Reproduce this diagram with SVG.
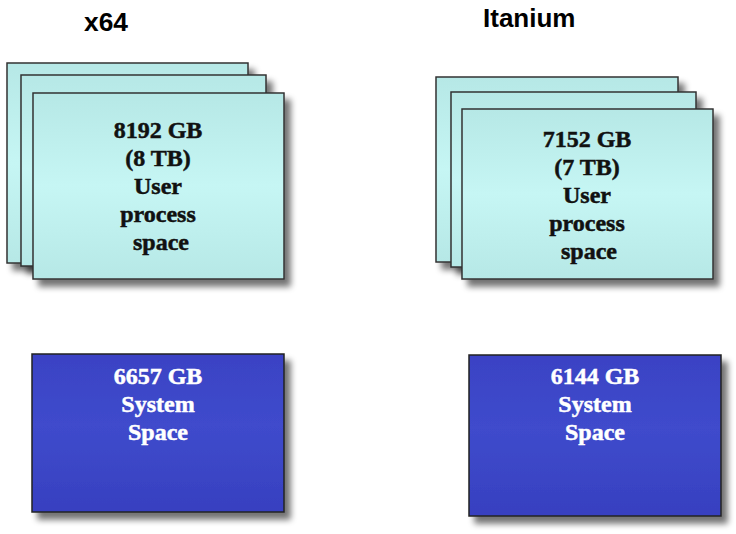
<svg xmlns="http://www.w3.org/2000/svg" width="736" height="534" viewBox="0 0 736 534">
<defs>
  <linearGradient id="cyan" x1="0" y1="0" x2="0" y2="1">
    <stop offset="0" stop-color="#b6e8e6"/>
    <stop offset="0.5" stop-color="#c6f6f4"/>
    <stop offset="1" stop-color="#b6e8e6"/>
  </linearGradient>
  <linearGradient id="blue" x1="0" y1="0" x2="0" y2="1">
    <stop offset="0" stop-color="#3a42c4"/>
    <stop offset="0.45" stop-color="#3f4bcc"/>
    <stop offset="1" stop-color="#3740c0"/>
  </linearGradient>
  <filter id="shadow" x="-10%" y="-10%" width="130%" height="135%">
    <feGaussianBlur in="SourceAlpha" stdDeviation="3"/>
    <feOffset dx="6" dy="7" result="b"/>
    <feComponentTransfer><feFuncA type="linear" slope="0.55"/></feComponentTransfer>
    <feMerge><feMergeNode/><feMergeNode in="SourceGraphic"/></feMerge>
  </filter>
</defs>
<style>
  .title { font-family: "Liberation Sans", Arial, sans-serif; font-weight: bold; font-size: 26px; fill: #000; }
  .card { fill: url(#cyan); stroke: #333; stroke-width: 1.5; filter: url(#shadow); }
  .sys { fill: url(#blue); stroke: #222; stroke-width: 1.5; filter: url(#shadow); }
  .lbl { font-family: "Liberation Serif", "Times New Roman", serif; font-weight: bold; font-size: 24px; text-anchor: middle; stroke-width: 0.5; }
  .dark { fill: #111; stroke: #111; }
  .light { fill: #fff; stroke: #fff; }
</style>
<text class="title" x="84" y="31" textLength="44" lengthAdjust="spacingAndGlyphs">x64</text>
<text class="title" x="483" y="27">Itanium</text>

<g id="x64-user">
  <rect class="card" x="7" y="63" width="241" height="200"/>
  <rect class="card" x="21" y="75" width="245" height="191"/>
  <rect class="card" x="33" y="93" width="251" height="186"/>
  <text class="lbl dark" x="158" y="138">8192 GB</text>
  <text class="lbl dark" x="158" y="166">(8 TB)</text>
  <text class="lbl dark" x="158" y="194">User</text>
  <text class="lbl dark" x="158" y="222">process</text>
  <text class="lbl dark" x="161" y="250">space</text>
</g>

<g id="itanium-user">
  <rect class="card" x="436" y="77" width="242" height="185"/>
  <rect class="card" x="451" y="92" width="245" height="175"/>
  <rect class="card" x="462" y="109" width="251" height="170"/>
  <text class="lbl dark" x="587" y="147">7152 GB</text>
  <text class="lbl dark" x="587" y="175">(7 TB)</text>
  <text class="lbl dark" x="587" y="203">User</text>
  <text class="lbl dark" x="587" y="231">process</text>
  <text class="lbl dark" x="589" y="259">space</text>
</g>

<g id="x64-system">
  <rect class="sys" x="32" y="354" width="252" height="158"/>
  <text class="lbl light" x="158" y="384">6657 GB</text>
  <text class="lbl light" x="158" y="412">System</text>
  <text class="lbl light" x="158" y="440">Space</text>
</g>

<g id="itanium-system">
  <rect class="sys" x="469" y="355" width="252" height="161"/>
  <text class="lbl light" x="595" y="384">6144 GB</text>
  <text class="lbl light" x="595" y="412">System</text>
  <text class="lbl light" x="595" y="440">Space</text>
</g>

<g id="connectors"></g>
</svg>
